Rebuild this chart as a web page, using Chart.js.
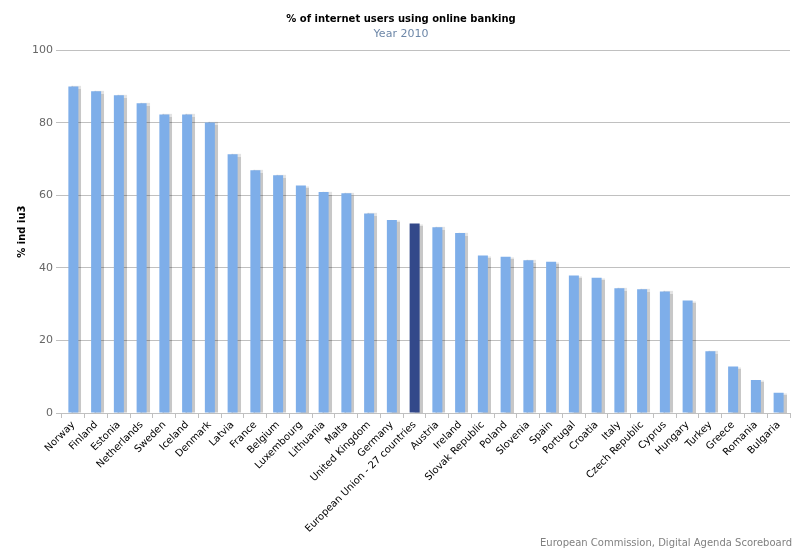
<!DOCTYPE html>
<html>
<head>
<meta charset="utf-8">
<script src="https://cdn.jsdelivr.net/npm/chart.js@4/dist/chart.umd.min.js"></script>
<style>
  html, body { margin: 0; padding: 0; background: #fff; }
  #wrap { position: relative; width: 800px; height: 549px; }
  #credit { position: absolute; right: 8px; bottom: 1px; font: 10px "DejaVu Sans", sans-serif; color: #808080; }
</style>
</head>
<body>
<div id="wrap">
  <canvas id="bankingChart" width="800" height="549"></canvas>
  <div id="credit">European Commission, Digital Agenda Scoreboard</div>
</div>
<script>
// data
const countries = ['Norway', 'Finland', 'Estonia', 'Netherlands', 'Sweden', 'Iceland', 'Denmark', 'Latvia',
    'France', 'Belgium', 'Luxembourg', 'Lithuania', 'Malta', 'United Kingdom', 'Germany',
    'European Union - 27 countries', 'Austria', 'Ireland', 'Slovak Republic', 'Poland', 'Slovenia',
    'Spain', 'Portugal', 'Croatia', 'Italy', 'Czech Republic', 'Cyprus', 'Hungary', 'Turkey',
    'Greece', 'Romania', 'Bulgaria'];
const shareOnlineBanking = [90.0, 88.7, 87.6, 85.4, 82.3, 82.3, 80.1, 71.3,
    66.9, 65.5, 62.7, 60.9, 60.6, 55.0, 53.2,
    52.2, 51.2, 49.6, 43.4, 43.1, 42.1,
    41.7, 37.9, 37.3, 34.4, 34.1, 33.5, 31.0, 17.0,
    12.8, 9.1, 5.6];
const yTicks = [0, 20, 40, 60, 80, 100];
const highlight = 'European Union - 27 countries';

const barColors = countries.map(c => c === highlight ? '#33498a' : '#7eaee9');

// soft shadow on the right of each bar
const barShadow = {
    id: 'barShadow',
    beforeDatasetsDraw(chart) {
        const ctx = chart.ctx;
        ctx.save();
        ctx.shadowColor = 'rgba(0,0,0,0.22)';
        ctx.shadowOffsetX = 3;
        ctx.shadowOffsetY = 0;
        ctx.shadowBlur = 1;
    },
    afterDatasetsDraw(chart) {
        chart.ctx.restore();
    }
};

const ctx = document.getElementById('bankingChart');
new Chart(ctx.getContext('2d'), {
    type: 'bar',
    data: {
        labels: countries,
        datasets: [{
            data: shareOnlineBanking,
            backgroundColor: barColors,
            borderWidth: 0,
            categoryPercentage: 1,
            barPercentage: 0.44
        }]
    },
    options: {
        responsive: false,
        animation: false,
        layout: { padding: { top: 4, right: 10, bottom: 13, left: 12 } },
        plugins: {
            legend: { display: false },
            tooltip: { enabled: false },
            title: {
                display: true,
                text: '% of internet users using online banking',
                color: '#000',
                font: { family: 'DejaVu Sans', size: 10, weight: 'bold' },
                padding: { top: 9, bottom: 3 }
            },
            subtitle: {
                display: true,
                text: 'Year 2010',
                color: '#6d87a8',
                font: { family: 'DejaVu Sans', size: 11 },
                padding: { bottom: 9 }
            }
        },
        scales: {
            x: {
                grid: { drawOnChartArea: false, drawTicks: true, tickLength: 5, color: '#c0c0c0', offset: true },
                border: { display: true, color: '#c0c0c0' },
                ticks: {
                    color: '#000',
                    autoSkip: false,
                    minRotation: 45,
                    maxRotation: 45,
                    padding: 1,
                    font: { family: 'DejaVu Sans', size: 10 }
                }
            },
            y: {
                min: 0,
                max: 100,
                afterBuildTicks: axis => { axis.ticks = yTicks.map(v => ({ value: v })); },
                grid: { color: '#c0c0c0', tickLength: 6 },
                border: { display: false },
                ticks: {
                    color: '#666',
                    padding: 3,
                    font: { family: 'DejaVu Sans', size: 11 }
                },
                title: {
                    display: true,
                    text: '% ind iu3',
                    color: '#000',
                    font: { family: 'DejaVu Sans', size: 10, weight: 'bold' },
                    padding: { bottom: 1 }
                }
            }
        }
    },
    plugins: [barShadow]
});
</script>
</body>
</html>
